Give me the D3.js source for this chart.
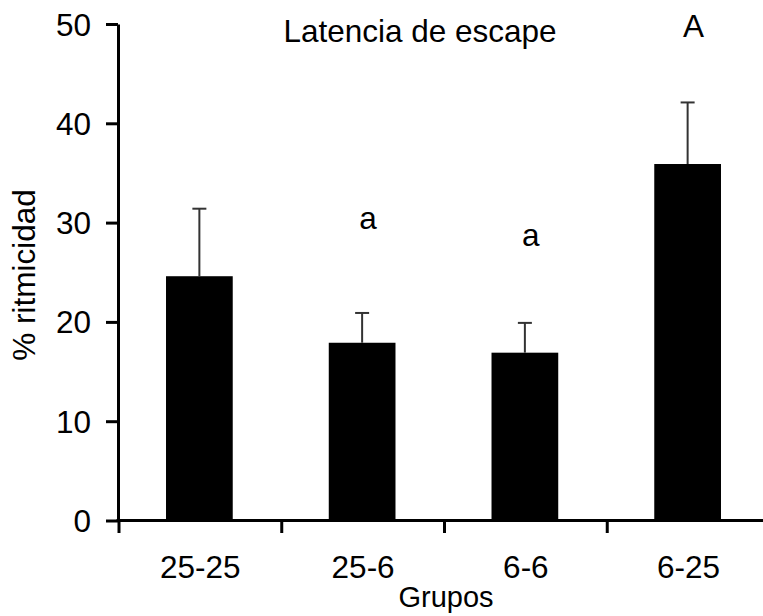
<!DOCTYPE html>
<html>
<head>
<meta charset="utf-8">
<script src="https://cdn.jsdelivr.net/npm/d3@7"></script>
<style>
  body { margin: 0; background: #fff; }
  svg text { font-family: "Liberation Sans", Arial, sans-serif; fill: #000; }
</style>
</head>
<body>
<svg id="chart" width="763" height="616"></svg>
<script>
// data
const grupos = ["25-25", "25-6", "6-6", "6-25"];
const medias = [24.6, 17.9, 16.9, 35.9];
const errores = [6.8, 3.0, 3.0, 6.2];
const letras = ["", "a", "a", "A"];
const letraY = [0, 29.4, 27.6, 48.7];
const yTicks = [0, 10, 20, 30, 40, 50];

const svg = d3.select("#chart");
const fontSize = "31.5px";

var x = d3.scaleBand()
    .domain(grupos)
    .range([119, 770])
    .padding(0);

var y = d3.scaleLinear()
    .domain([0, 50])
    .range([520.5, 24]);

const barW = x.bandwidth() * 0.41;

// bars
svg.selectAll("rect.bar").data(grupos)
    .join("rect")
    .attr("class", "bar")
    .attr("x", d => x(d) + (x.bandwidth() - barW) / 2 - 1)
    .attr("width", barW)
    .attr("y", (d, i) => y(medias[i]))
    .attr("height", (d, i) => y(0) - y(medias[i]))
    .attr("fill", "#000");

// error bars (upper only)
const err = svg.selectAll("g.err").data(grupos)
    .join("g")
    .attr("class", "err")
    .attr("transform", d => `translate(${x(d) + x.bandwidth() / 2 - 1},0)`);

err.append("line")
    .attr("y1", (d, i) => y(medias[i]))
    .attr("y2", (d, i) => y(medias[i] + errores[i]))
    .attr("stroke", "#333")
    .attr("stroke-width", 2);

err.append("line")
    .attr("x1", -7).attr("x2", 7)
    .attr("y1", (d, i) => y(medias[i] + errores[i]))
    .attr("y2", (d, i) => y(medias[i] + errores[i]))
    .attr("stroke", "#333")
    .attr("stroke-width", 2);

// significance letters
svg.selectAll("text.letra").data(grupos)
    .join("text")
    .attr("class", "letra")
    .attr("x", d => x(d) + x.bandwidth() / 2 + 5)
    .attr("y", (d, i) => y(letraY[i]))
    .attr("text-anchor", "middle")
    .style("font-size", fontSize)
    .text((d, i) => letras[i]);

// y axis
const yAxis = svg.append("g")
    .attr("transform", "translate(118,0)")
    .call(d3.axisLeft(y).tickValues(yTicks).tickSize(12).tickSizeOuter(0).tickPadding(15));
yAxis.select(".domain").attr("stroke", "#000").attr("stroke-width", 3);
yAxis.selectAll(".tick line").attr("stroke", "#000").attr("stroke-width", 3);
yAxis.selectAll(".tick text")
    .attr("font-family", null).attr("font-size", null)
    .style("font-size", fontSize)
    .attr("dy", "0.35em");

// x axis: line to the edge, ticks on group boundaries
svg.append("line")
    .attr("x1", 116.5).attr("x2", 763)
    .attr("y1", y(0)).attr("y2", y(0))
    .attr("stroke", "#000").attr("stroke-width", 3);

svg.selectAll("line.xtick").data(grupos)
    .join("line")
    .attr("class", "xtick")
    .attr("x1", d => x(d)).attr("x2", d => x(d))
    .attr("y1", y(0)).attr("y2", y(0) + 12.5)
    .attr("stroke", "#000").attr("stroke-width", 3);

svg.selectAll("text.xlab").data(grupos)
    .join("text")
    .attr("class", "xlab")
    .attr("x", d => x(d) + x.bandwidth() / 2)
    .attr("y", 578)
    .attr("text-anchor", "middle")
    .style("font-size", fontSize)
    .text(d => d);

// titles
svg.append("text")
    .attr("x", 420).attr("y", 41.5)
    .attr("text-anchor", "middle")
    .style("font-size", fontSize)
    .text("Latencia de escape");

svg.append("text")
    .attr("x", 446).attr("y", 607)
    .attr("text-anchor", "middle")
    .style("font-size", "29px")
    .text("Grupos");

svg.append("text")
    .attr("transform", "translate(35,275) rotate(-90)")
    .attr("text-anchor", "middle")
    .style("font-size", fontSize)
    .text("% ritmicidad");
</script>
</body>
</html>
